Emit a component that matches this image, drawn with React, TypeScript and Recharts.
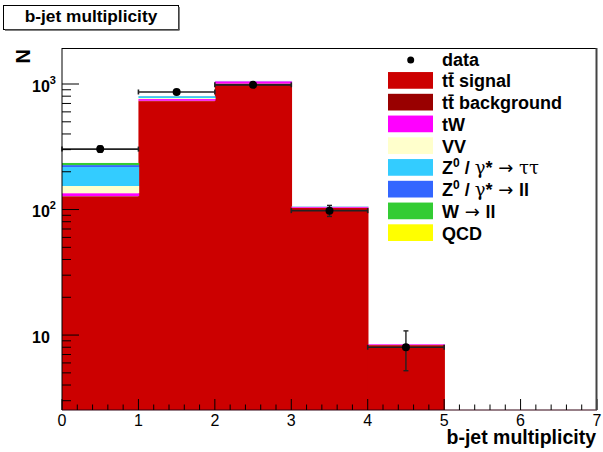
import { ComposedChart, Bar, Scatter, ErrorBar, XAxis, YAxis } from 'recharts'

const W = 603
const H = 452
const MARGIN = { top: 48, right: 6, bottom: 0, left: 0 }
const Y_AXIS_W = 62
const X_AXIS_H = 42

const FONT = '"Liberation Sans", Arial, Helvetica, sans-serif'
const SYMBOL = '"DejaVu Serif", "Liberation Serif", serif'
const ARROW = '"DejaVu Sans", sans-serif'

// histogram bins (lower edges), one entry per b-jet count
const bins = ['0', '1', '2', '3', '4', '5', '6']

// stacked MC contributions, bottom of the stack first
const ttSignal = [127, 730, 964, 103, 8.3, 0, 0]
const ttBackground = [1, 6, 45, 0.5, 0.05, 0, 0]
const tW = [7, 23, 43, 1.5, 0.1, 0, 0]
const vv = [19, 14, 2, 0.3, 0, 0, 0]
const zTauTau = [64, 25, 3, 0.5, 0, 0, 0]
const zLL = [8, 2, 0.5, 0.1, 0, 0, 0]
const wLL = [9, 2, 0.5, 0.1, 0, 0, 0]
const qcd = [0, 0, 0, 0, 0, 0, 0]

// observed data
const dataCenters = [0.5, 1.5, 2.5, 3.5, 4.5]
const dataCounts = [303, 864, 985, 98, 8]
const dataErrors = [17.4, 29.4, 31.4, 9.9, 2.8]
const binHalfWidth = 0.5

// axes
const yDomain: [number, number] = [2.53, 1936]
const yTicks = [
  3, 4, 5, 6, 7, 8, 9, 10, 20, 30, 40, 50, 60, 70, 80, 90,
  100, 200, 300, 400, 500, 600, 700, 800, 900, 1000,
]
const xMajorTicks = [0, 1, 2, 3, 4, 5, 6, 7]
const xTicks = xMajorTicks.flatMap((t, i) =>
  i === xMajorTicks.length - 1 ? [t] : [t, t + 0.2, t + 0.4, t + 0.6, t + 0.8]
)

const stack = [
  { key: 'ttSignal', color: '#cc0000', values: ttSignal },
  { key: 'ttBackground', color: '#990000', values: ttBackground },
  { key: 'tW', color: '#ff00ff', values: tW },
  { key: 'vv', color: '#ffffcc', values: vv },
  { key: 'zTauTau', color: '#33ccff', values: zTauTau },
  { key: 'zLL', color: '#3366ff', values: zLL },
  { key: 'wLL', color: '#33cc33', values: wLL },
  { key: 'qcd', color: '#ffff00', values: qcd },
]

const rows = bins.map((bin, i) => {
  const row: Record<string, string | number> = { bin }
  stack.forEach((s) => {
    row[s.key] = s.values[i]
  })
  return row
})

const points = dataCenters.map((x, i) => ({
  x,
  y: dataCounts[i],
  ex: binHalfWidth,
  ey: dataErrors[i],
}))

function XTick(props: any) {
  const { x, y, payload } = props
  const v = payload.value as number
  const major = Math.abs(v - Math.round(v)) < 1e-6
  return (
    <g>
      <line x1={x} x2={x} y1={y} y2={y - (major ? 11 : 5.5)} stroke="#000" />
      {major && (
        <text x={x} y={y + 16} textAnchor="middle" fontSize={16} fontFamily={FONT} fill="#000">
          {Math.round(v)}
        </text>
      )}
    </g>
  )
}

function YTick(props: any) {
  const { x, y, payload } = props
  const v = payload.value as number
  const exp = Math.round(Math.log10(v))
  const major = Math.abs(Math.log10(v) - exp) < 1e-6
  return (
    <g>
      <line x1={x} x2={x + (major ? 17 : 9)} y1={y} y2={y} stroke="#000" />
      {major && (
        <text x={x - 30} y={y + 7.5} fontSize={16} fontWeight="bold" fontFamily={FONT} fill="#000">
          10
          {exp > 1 && (
            <tspan dy={-8} fontSize={11}>
              {exp}
            </tspan>
          )}
        </text>
      )}
    </g>
  )
}

// histogram bin: Recharts floors the bar width, so pad it to close the seam between bins
const BinRect = (props: any) => {
  const { x, y, width, height, fill } = props
  if (!height || height <= 0) return <g />
  return <rect x={x} y={y} width={width + 1.2} height={height} fill={fill} />
}

const DataDot = (props: any) => <circle cx={props.cx} cy={props.cy} r={4} fill="#000" />

function LegendLabel({ id }: { id: string }) {
  const sup = (s: string) => (
    <tspan dy={-7} fontSize={12}>
      {s}
    </tspan>
  )
  switch (id) {
    case 'data':
      return <>data</>
    case 'ttSignal':
      return <>{'tt\u0304 signal'}</>
    case 'ttBackground':
      return <>{'tt\u0304 background'}</>
    case 'tW':
      return <>tW</>
    case 'vv':
      return <>VV</>
    case 'zTauTau':
      return (
        <>
          Z{sup('0')}
          <tspan dy={7}> / </tspan>
          <tspan fontFamily={SYMBOL} fontWeight="normal">γ</tspan>*
          <tspan fontFamily={ARROW} fontWeight="normal"> → </tspan>
          <tspan fontFamily={SYMBOL} fontWeight="normal">ττ</tspan>
        </>
      )
    case 'zLL':
      return (
        <>
          Z{sup('0')}
          <tspan dy={7}> / </tspan>
          <tspan fontFamily={SYMBOL} fontWeight="normal">γ</tspan>*
          <tspan fontFamily={ARROW} fontWeight="normal"> → </tspan>ll
        </>
      )
    case 'wLL':
      return (
        <>
          W<tspan fontFamily={ARROW} fontWeight="normal"> → </tspan>ll
        </>
      )
    default:
      return <>QCD</>
  }
}

const legendIds = ['data', ...stack.map((s) => s.key)]

export default function App() {
  const plotLeft = MARGIN.left + Y_AXIS_W
  const plotRight = W - MARGIN.right
  const plotTop = MARGIN.top
  const plotBottom = H - MARGIN.bottom - X_AXIS_H

  return (
    <div style={{ position: 'absolute', left: 0, top: 0, width: W, height: H, background: '#fff' }}>
      <ComposedChart
        width={W}
        height={H}
        data={rows}
        margin={MARGIN}
        barCategoryGap={0}
        barGap={0}
      >
        <XAxis xAxisId="cat" dataKey="bin" hide height={0} />
        <YAxis
          scale="log"
          type="number"
          domain={yDomain}
          allowDataOverflow
          ticks={yTicks}
          interval={0}
          width={Y_AXIS_W}
          tickSize={0}
          tickMargin={0}
          axisLine={{ stroke: '#000' }}
          tick={<YTick />}
        />
        {stack.map((s) => (
          <Bar
            key={s.key}
            xAxisId="cat"
            dataKey={s.key}
            stackId="mc"
            fill={s.color}
            shape={BinRect}
            isAnimationActive={false}
          />
        ))}
        <Scatter
          xAxisId="num"
          data={points}
          dataKey="y"
          fill="#000"
          shape={DataDot}
          isAnimationActive={false}
        >
          <ErrorBar dataKey="ex" direction="x" width={2.5} stroke="#222" strokeWidth={1.6} />
          <ErrorBar dataKey="ey" direction="y" width={2.5} stroke="#222" strokeWidth={1.4} />
        </Scatter>
        <XAxis
          xAxisId="num"
          type="number"
          dataKey="x"
          domain={[0, 7]}
          allowDataOverflow
          ticks={xTicks}
          interval={0}
          height={X_AXIS_H}
          tickSize={0}
          tickMargin={0}
          axisLine={{ stroke: '#300010' }}
          tick={<XTick />}
        />
      </ComposedChart>

      <svg
        width={W}
        height={H}
        style={{ position: 'absolute', left: 0, top: 0, pointerEvents: 'none' }}
        fontFamily={FONT}
      >
        {/* frame top and right edges */}
        <line x1={plotLeft} x2={plotRight - 0.5} y1={plotTop + 0.5} y2={plotTop + 0.5} stroke="#000" />
        <line x1={plotRight - 0.5} x2={plotRight - 0.5} y1={plotTop} y2={plotBottom} stroke="#444" strokeWidth={2} />

        {/* title box */}
        <rect x={3.5} y={5.5} width={175} height={24} fill="#fff" stroke="#000" />
        <line x1={179} x2={179} y1={7} y2={30} stroke="#555" strokeWidth={1.5} />
        <line x1={5} x2={179.5} y1={30} y2={30} stroke="#555" strokeWidth={1.5} />
        <text x={91} y={22} textAnchor="middle" fontSize={17.3} fontWeight="bold" fill="#000">
          b-jet multiplicity
        </text>

        {/* axis titles */}
        <text
          transform={`translate(30, ${plotTop + 1}) rotate(-90)`}
          textAnchor="end"
          fontSize={20}
          fontWeight="bold"
          fill="#000"
        >
          N
        </text>
        <text x={plotRight - 1} y={444} textAnchor="end" fontSize={19.5} fontWeight="bold" fill="#000">
          b-jet multiplicity
        </text>

        {/* legend */}
        {legendIds.map((id, i) => {
          const base = 65.6 + 21.75 * i
          const s = stack.find((e) => e.key === id)
          return (
            <g key={id}>
              {s ? (
                <rect x={388} y={base - 15.3} width={45} height={16.7} fill={s.color} />
              ) : (
                <circle cx={410.7} cy={base - 5.6} r={3.5} fill="#000" />
              )}
              <text x={442} y={base} fontSize={18} fontWeight="bold" fill="#000">
                <LegendLabel id={id} />
              </text>
            </g>
          )
        })}
      </svg>
    </div>
  )
}
